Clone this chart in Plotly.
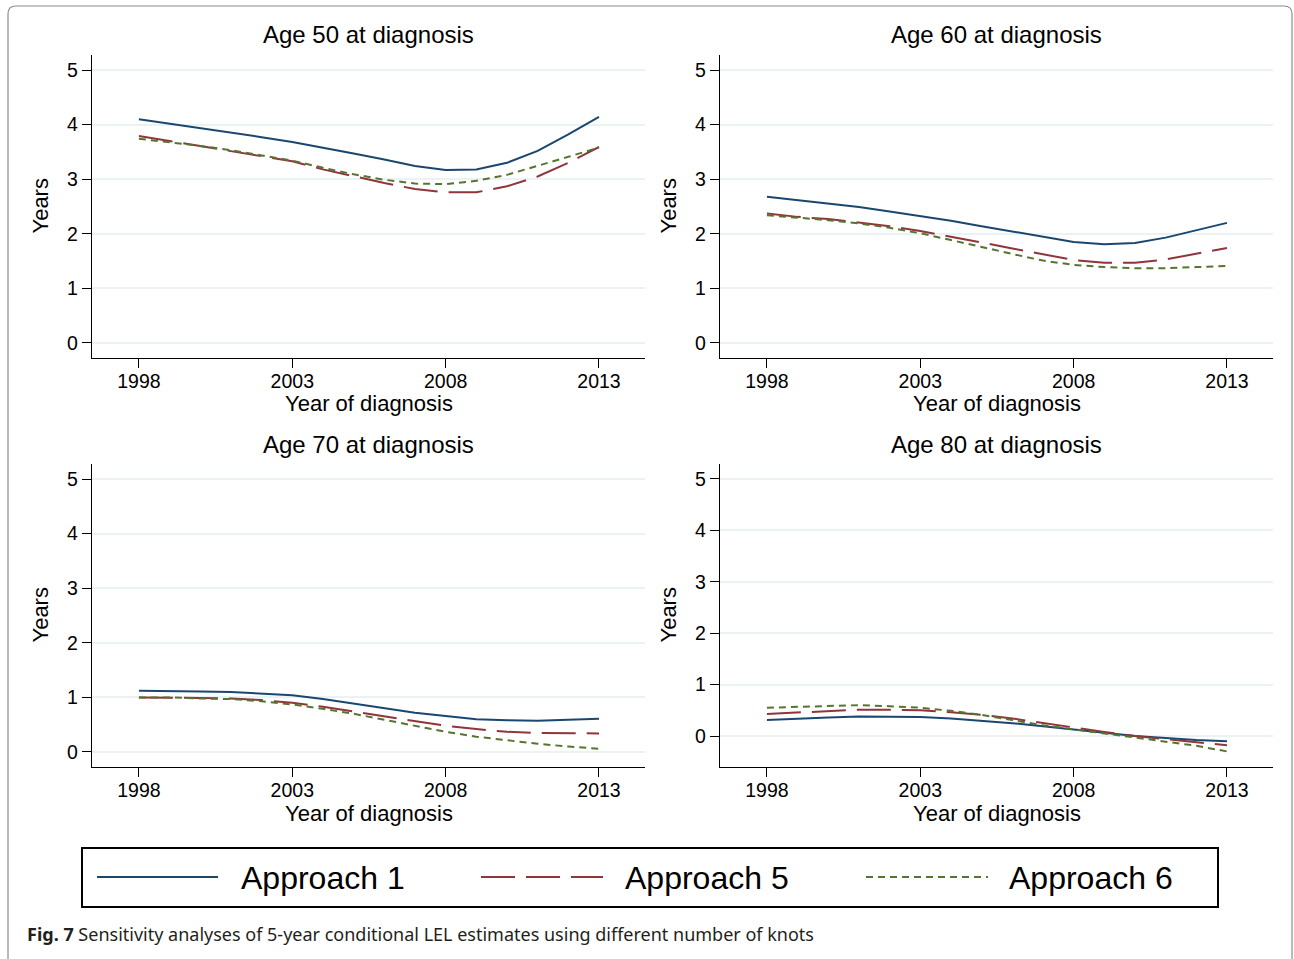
import plotly.graph_objects as go

W, H = 1294, 959

years = list(range(1998, 2014))
x_ticks = [1998, 2003, 2008, 2013]
y_ticks = [0, 1, 2, 3, 4, 5]

panel_titles = ["Age 50 at diagnosis", "Age 60 at diagnosis",
                "Age 70 at diagnosis", "Age 80 at diagnosis"]
series_names = ["Approach 1", "Approach 5", "Approach 6"]

# Age 50
age50_a1 = [4.10, 4.02, 3.94, 3.86, 3.77, 3.68, 3.58, 3.47, 3.36, 3.24, 3.17, 3.18, 3.30, 3.52, 3.82, 4.14]
age50_a5 = [3.79, 3.70, 3.61, 3.52, 3.43, 3.33, 3.18, 3.05, 2.93, 2.82, 2.76, 2.76, 2.87, 3.05, 3.30, 3.59]
age50_a6 = [3.74, 3.68, 3.61, 3.53, 3.44, 3.34, 3.21, 3.09, 2.99, 2.92, 2.91, 2.97, 3.08, 3.24, 3.41, 3.58]
# Age 60
age60_a1 = [2.68, 2.62, 2.56, 2.49, 2.41, 2.33, 2.24, 2.14, 2.04, 1.94, 1.85, 1.81, 1.83, 1.93, 2.06, 2.20]
age60_a5 = [2.37, 2.31, 2.27, 2.21, 2.14, 2.05, 1.95, 1.84, 1.73, 1.62, 1.52, 1.47, 1.47, 1.53, 1.63, 1.74]
age60_a6 = [2.34, 2.30, 2.25, 2.19, 2.11, 2.01, 1.89, 1.76, 1.63, 1.51, 1.43, 1.39, 1.37, 1.37, 1.39, 1.41]
# Age 70
age70_a1 = [1.12, 1.12, 1.11, 1.10, 1.07, 1.04, 0.97, 0.89, 0.80, 0.72, 0.66, 0.60, 0.58, 0.57, 0.59, 0.61]
age70_a5 = [1.00, 1.00, 0.99, 0.98, 0.95, 0.90, 0.83, 0.74, 0.65, 0.56, 0.48, 0.42, 0.37, 0.35, 0.34, 0.34]
age70_a6 = [1.00, 1.00, 0.98, 0.97, 0.93, 0.87, 0.79, 0.70, 0.59, 0.48, 0.37, 0.28, 0.21, 0.15, 0.10, 0.06]
# Age 80
age80_a1 = [0.31, 0.34, 0.36, 0.38, 0.38, 0.37, 0.34, 0.30, 0.25, 0.19, 0.13, 0.06, 0.00, -0.04, -0.08, -0.10]
age80_a5 = [0.43, 0.46, 0.49, 0.51, 0.51, 0.50, 0.46, 0.41, 0.34, 0.25, 0.16, 0.08, 0.00, -0.06, -0.12, -0.18]
age80_a6 = [0.55, 0.57, 0.59, 0.60, 0.58, 0.55, 0.49, 0.41, 0.31, 0.21, 0.13, 0.05, -0.03, -0.11, -0.19, -0.30]

panel_data = [
    [age50_a1, age50_a5, age50_a6],
    [age60_a1, age60_a5, age60_a6],
    [age70_a1, age70_a5, age70_a6],
    [age80_a1, age80_a5, age80_a6],
]

colors = ["#1a476f", "#90353b", "#55752f"]
dashes = ["solid", "34px,11px", "7px,5px"]

FONT = "Liberation Sans, Arial, Helvetica, sans-serif"


def px(x):
    return x / W


def py(y):
    return 1 - y / H


# panel pixel boxes: (left, right, top, bottom)
boxes = [(92, 645, 55, 358), (720, 1273, 55, 358),
         (92, 645, 464, 767), (720, 1273, 464, 767)]
y_ranges = [[-0.275, 5.275], [-0.275, 5.275], [-0.275, 5.275], [-0.603, 5.29]]
x_range = [1996.47, 2014.5]

fig = go.Figure()
annotations = []
shapes = []

for i, (box, data) in enumerate(zip(boxes, panel_data)):
    l, r, t, b = box
    suffix = "" if i == 0 else str(i + 1)
    xa = "x" + suffix
    ya = "y" + suffix
    for j in range(3):
        fig.add_trace(go.Scatter(
            x=years, y=data[j], mode="lines", name=series_names[j],
            line=dict(color=colors[j], width=2, dash=dashes[j]),
            xaxis=xa, yaxis=ya, showlegend=False,
        ))
    xaxis = dict(
        domain=[px(l), px(r)], range=x_range, anchor=ya,
        tickvals=x_ticks, ticktext=[str(v) for v in x_ticks],
        showline=True, linecolor="black", linewidth=1.3,
        ticks="outside", ticklen=9, tickwidth=1.3, tickcolor="black",
        ticklabelstandoff=-4,
        showgrid=False, zeroline=False,
        tickfont=dict(family=FONT, size=19.5, color="black"),
    )
    yaxis = dict(
        domain=[py(b), py(t)], range=y_ranges[i], anchor=xa,
        tickvals=y_ticks, ticktext=[str(v) for v in y_ticks],
        showline=True, linecolor="black", linewidth=1.3,
        ticks="outside", ticklen=9, tickwidth=1.3, tickcolor="black",
        showgrid=True, gridcolor="#eaf2f3", gridwidth=1.5, zeroline=False,
        tickfont=dict(family=FONT, size=19.5, color="black"),
    )
    fig.layout["xaxis" + suffix] = xaxis
    fig.layout["yaxis" + suffix] = yaxis

    cx = (l + r) / 2
    annotations.append(dict(text=panel_titles[i], x=px(cx), y=py(t - 20),
                            xref="paper", yref="paper", showarrow=False,
                            xanchor="center", yanchor="middle",
                            font=dict(family=FONT, size=24, color="black")))
    annotations.append(dict(text="Year of diagnosis", x=px(cx), y=py(b + 46),
                            xref="paper", yref="paper", showarrow=False,
                            xanchor="center", yanchor="middle",
                            font=dict(family=FONT, size=22, color="black")))
    annotations.append(dict(text="Years", x=px(l - 52), y=py((t + b) / 2),
                            xref="paper", yref="paper", showarrow=False,
                            xanchor="center", yanchor="middle", textangle=-90,
                            font=dict(family=FONT, size=22, color="black")))

# Outer rounded frame
shapes.append(dict(type="path", xref="paper", yref="paper",
                   path=("M {x0},{y0} L {x1},{y0} Q {x2},{y0} {x2},{y3} L {x2},{y4} "
                         "L {xa},{y4} L {xa},{y3} Q {xa},{y0} {x0},{y0} Z").format(
                       x0=px(16), x1=px(1284), x2=px(1292), xa=px(8),
                       y0=py(6), y3=py(14), y4=py(970)),
                   line=dict(color="#8c8c8c", width=1.2)))

# Legend box (manual, to match long sample lines)
shapes.append(dict(type="rect", xref="paper", yref="paper",
                   x0=px(82), x1=px(1218), y0=py(907), y1=py(848),
                   line=dict(color="black", width=2)))
leg_lines = [(97, 218, 239), (481, 603, 623), (866, 988, 1007)]
for j, (a, bb, tx) in enumerate(leg_lines):
    shapes.append(dict(type="line", xref="paper", yref="paper",
                       x0=px(a), x1=px(bb), y0=py(877), y1=py(877),
                       line=dict(color=colors[j], width=2.2, dash=dashes[j])))
    annotations.append(dict(text=series_names[j], x=px(tx), y=py(878),
                            xref="paper", yref="paper", showarrow=False,
                            xanchor="left", yanchor="middle",
                            font=dict(family=FONT, size=32, color="black")))

# Caption
annotations.append(dict(
    text="<b>Fig. 7</b> Sensitivity analyses of 5-year conditional LEL estimates using different number of knots",
    x=px(25), y=py(934), xref="paper", yref="paper", showarrow=False,
    xanchor="left", yanchor="middle",
    font=dict(family="Noto Sans, Liberation Sans, sans-serif", size=18, color="#231f20")))

fig.update_layout(
    width=W, height=H, margin=dict(l=0, r=0, t=0, b=0),
    paper_bgcolor="white", plot_bgcolor="white",
    showlegend=False, annotations=annotations, shapes=shapes,
)

fig.write_html("out.html")
